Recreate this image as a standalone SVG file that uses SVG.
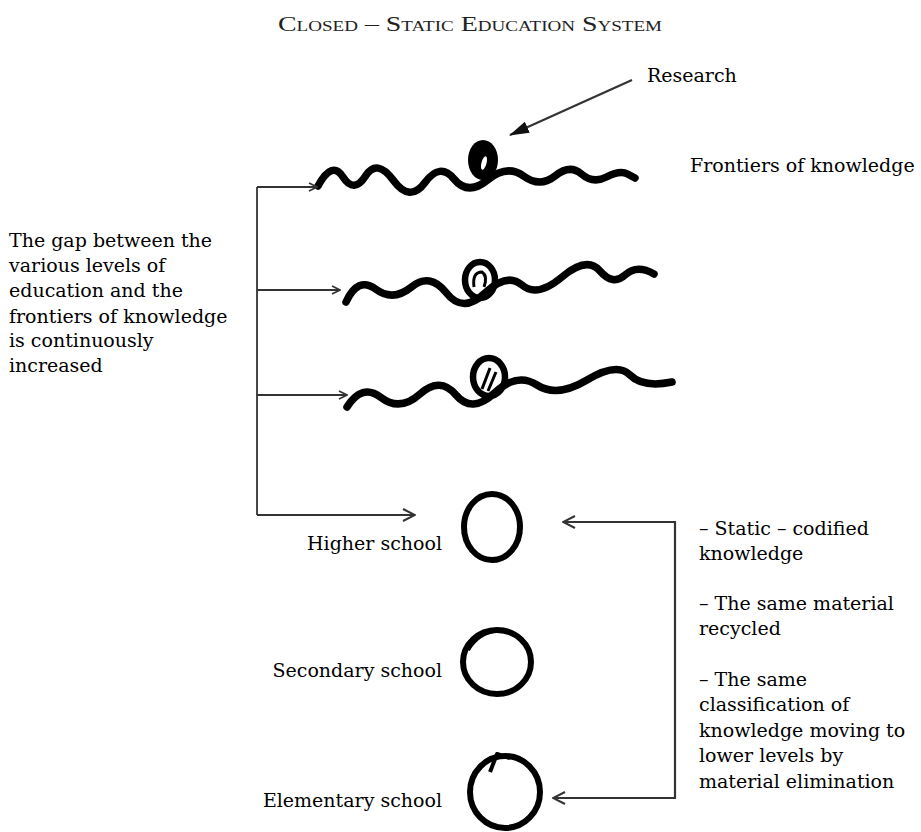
<svg xmlns="http://www.w3.org/2000/svg" width="921" height="832" viewBox="0 0 921 832">
<style>
text{font-family:"DejaVu Serif","Liberation Serif",serif;font-size:19px;fill:#000}
.title{font-family:"Liberation Serif",serif;font-size:22px;font-variant:small-caps;fill:#222}
.wave{fill:none;stroke:#000;stroke-width:7.5;stroke-linecap:round;stroke-linejoin:round}
.blob{fill:none;stroke:#000;stroke-width:6.5}
.ring{fill:none;stroke:#000;stroke-width:6}
.thin{fill:none;stroke:#333;stroke-width:1.8}
.br{fill:none;stroke:#333;stroke-width:2.2}
</style>
<defs>
<marker id="open" viewBox="0 0 10 10" refX="9" refY="5" markerWidth="10" markerHeight="10" markerUnits="userSpaceOnUse" orient="auto-start-reverse">
<path d="M1,1 L9,5 L1,9" fill="none" stroke="#333" stroke-width="1.6"/>
</marker>
<marker id="openbig" viewBox="0 0 14 14" refX="13" refY="7" markerWidth="14" markerHeight="14" markerUnits="userSpaceOnUse" orient="auto-start-reverse">
<path d="M1,1 L13,7 L1,13" fill="none" stroke="#333" stroke-width="2"/>
</marker>
<marker id="solid" viewBox="0 0 20 12" refX="19" refY="6" markerWidth="20" markerHeight="12" markerUnits="userSpaceOnUse" orient="auto">
<path d="M0,0 L20,6 L0,12 Z" fill="#111"/>
</marker>
</defs>

<g id="title"><text class="title" x="470" y="31" text-anchor="middle" textLength="384" lengthAdjust="spacingAndGlyphs">Closed – Static Education System</text></g>

<g id="research"><text x="647" y="82">Research</text></g>
<g id="frontiers-label"><text x="690" y="172">Frontiers of knowledge</text></g>

<g id="frontier-1">
<path class="wave" d="M318,186 Q332,160 343,177 Q354,194 365.5,176 Q377,158 393.5,180.5 Q410,203 425,182.5 Q440,162 454,179 Q468,196 487.5,180 Q507,164 523.5,176 Q540,188 555,176 Q570,164 581.5,174 Q593,184 606.5,177 Q620,170 627.5,174 L635,178"/>
<ellipse cx="483" cy="160" rx="15" ry="20" fill="#000"/>
<ellipse cx="484" cy="163" rx="2.5" ry="7" fill="#fff" transform="rotate(15 484 163)"/>
</g>
<g id="frontier-2">
<path class="wave" d="M346,302 Q358,276 375.5,289 Q393,302 411.5,287 Q430,272 446.5,293 Q463,314 485,293 Q507,272 522,285 Q537,298 562,277 Q587,256 600,271 Q613,286 625,275 Q637,264 654,274"/>
<ellipse class="blob" cx="480" cy="280" rx="15" ry="18"/>
<path d="M474,287 Q472,272 482,272 Q488,276 484,287" fill="none" stroke="#000" stroke-width="3"/>
</g>
<g id="frontier-3">
<path class="wave" d="M347,407 Q362,383 381,397.5 Q400,412 420,394 Q440,376 456,395 Q472,414 494.5,393 Q517,372 537,385 Q557,398 587,380 Q617,362 630,375 Q643,388 672,382"/>
<ellipse class="blob" cx="489" cy="377" rx="16" ry="19"/>
<path d="M482,389 L490,368 M488,391 L496,372" fill="none" stroke="#000" stroke-width="3"/>
</g>

<g id="gap-text">
<text x="9" y="247">The gap between the</text>
<text x="9" y="272">various levels of</text>
<text x="9" y="297">education and the</text>
<text x="9" y="323">frontiers of knowledge</text>
<text x="9" y="347">is continuously</text>
<text x="9" y="372">increased</text>
</g>

<g id="higher-school">
<ellipse class="ring" cx="492" cy="527" rx="28" ry="33"/>
<text x="442" y="550" text-anchor="end">Higher school</text>
</g>
<g id="secondary-school">
<ellipse class="ring" cx="497" cy="662" rx="34" ry="32"/>
<path d="M468,650 Q478,632 500,630" fill="none" stroke="#000" stroke-width="4"/>
<text x="442" y="677" text-anchor="end">Secondary school</text>
</g>
<g id="elementary-school">
<ellipse class="ring" cx="505" cy="792" rx="35" ry="36"/>
<path d="M490,772 L497,754 L510,758" fill="none" stroke="#000" stroke-width="4" stroke-linejoin="round"/>
<text x="442" y="807" text-anchor="end">Elementary school</text>
</g>

<g id="static-text">
<text x="699" y="535">– Static – codified</text>
<text x="699" y="560">knowledge</text>
<text x="699" y="610">– The same material</text>
<text x="699" y="635">recycled</text>
<text x="699" y="686">– The same</text>
<text x="699" y="711">classification of</text>
<text x="699" y="737">knowledge moving to</text>
<text x="699" y="762">lower levels by</text>
<text x="699" y="788">material elimination</text>
</g>

<g id="connectors">
<path class="br" d="M632,80 L510,135" stroke="#111" marker-end="url(#solid)"/>
<path class="thin" d="M257,187 L257,515"/>
<path class="thin" d="M257,187 L317,187" marker-end="url(#open)"/>
<path class="thin" d="M257,290 L340,290" marker-end="url(#open)"/>
<path class="thin" d="M257,395 L347,395" marker-end="url(#open)"/>
<path class="br" d="M257,515 L415,515" marker-end="url(#openbig)"/>
<path class="br" d="M563,522 L675,522 L675,798 L553,798" marker-start="url(#openbig)" marker-end="url(#openbig)"/>
</g>
</svg>
